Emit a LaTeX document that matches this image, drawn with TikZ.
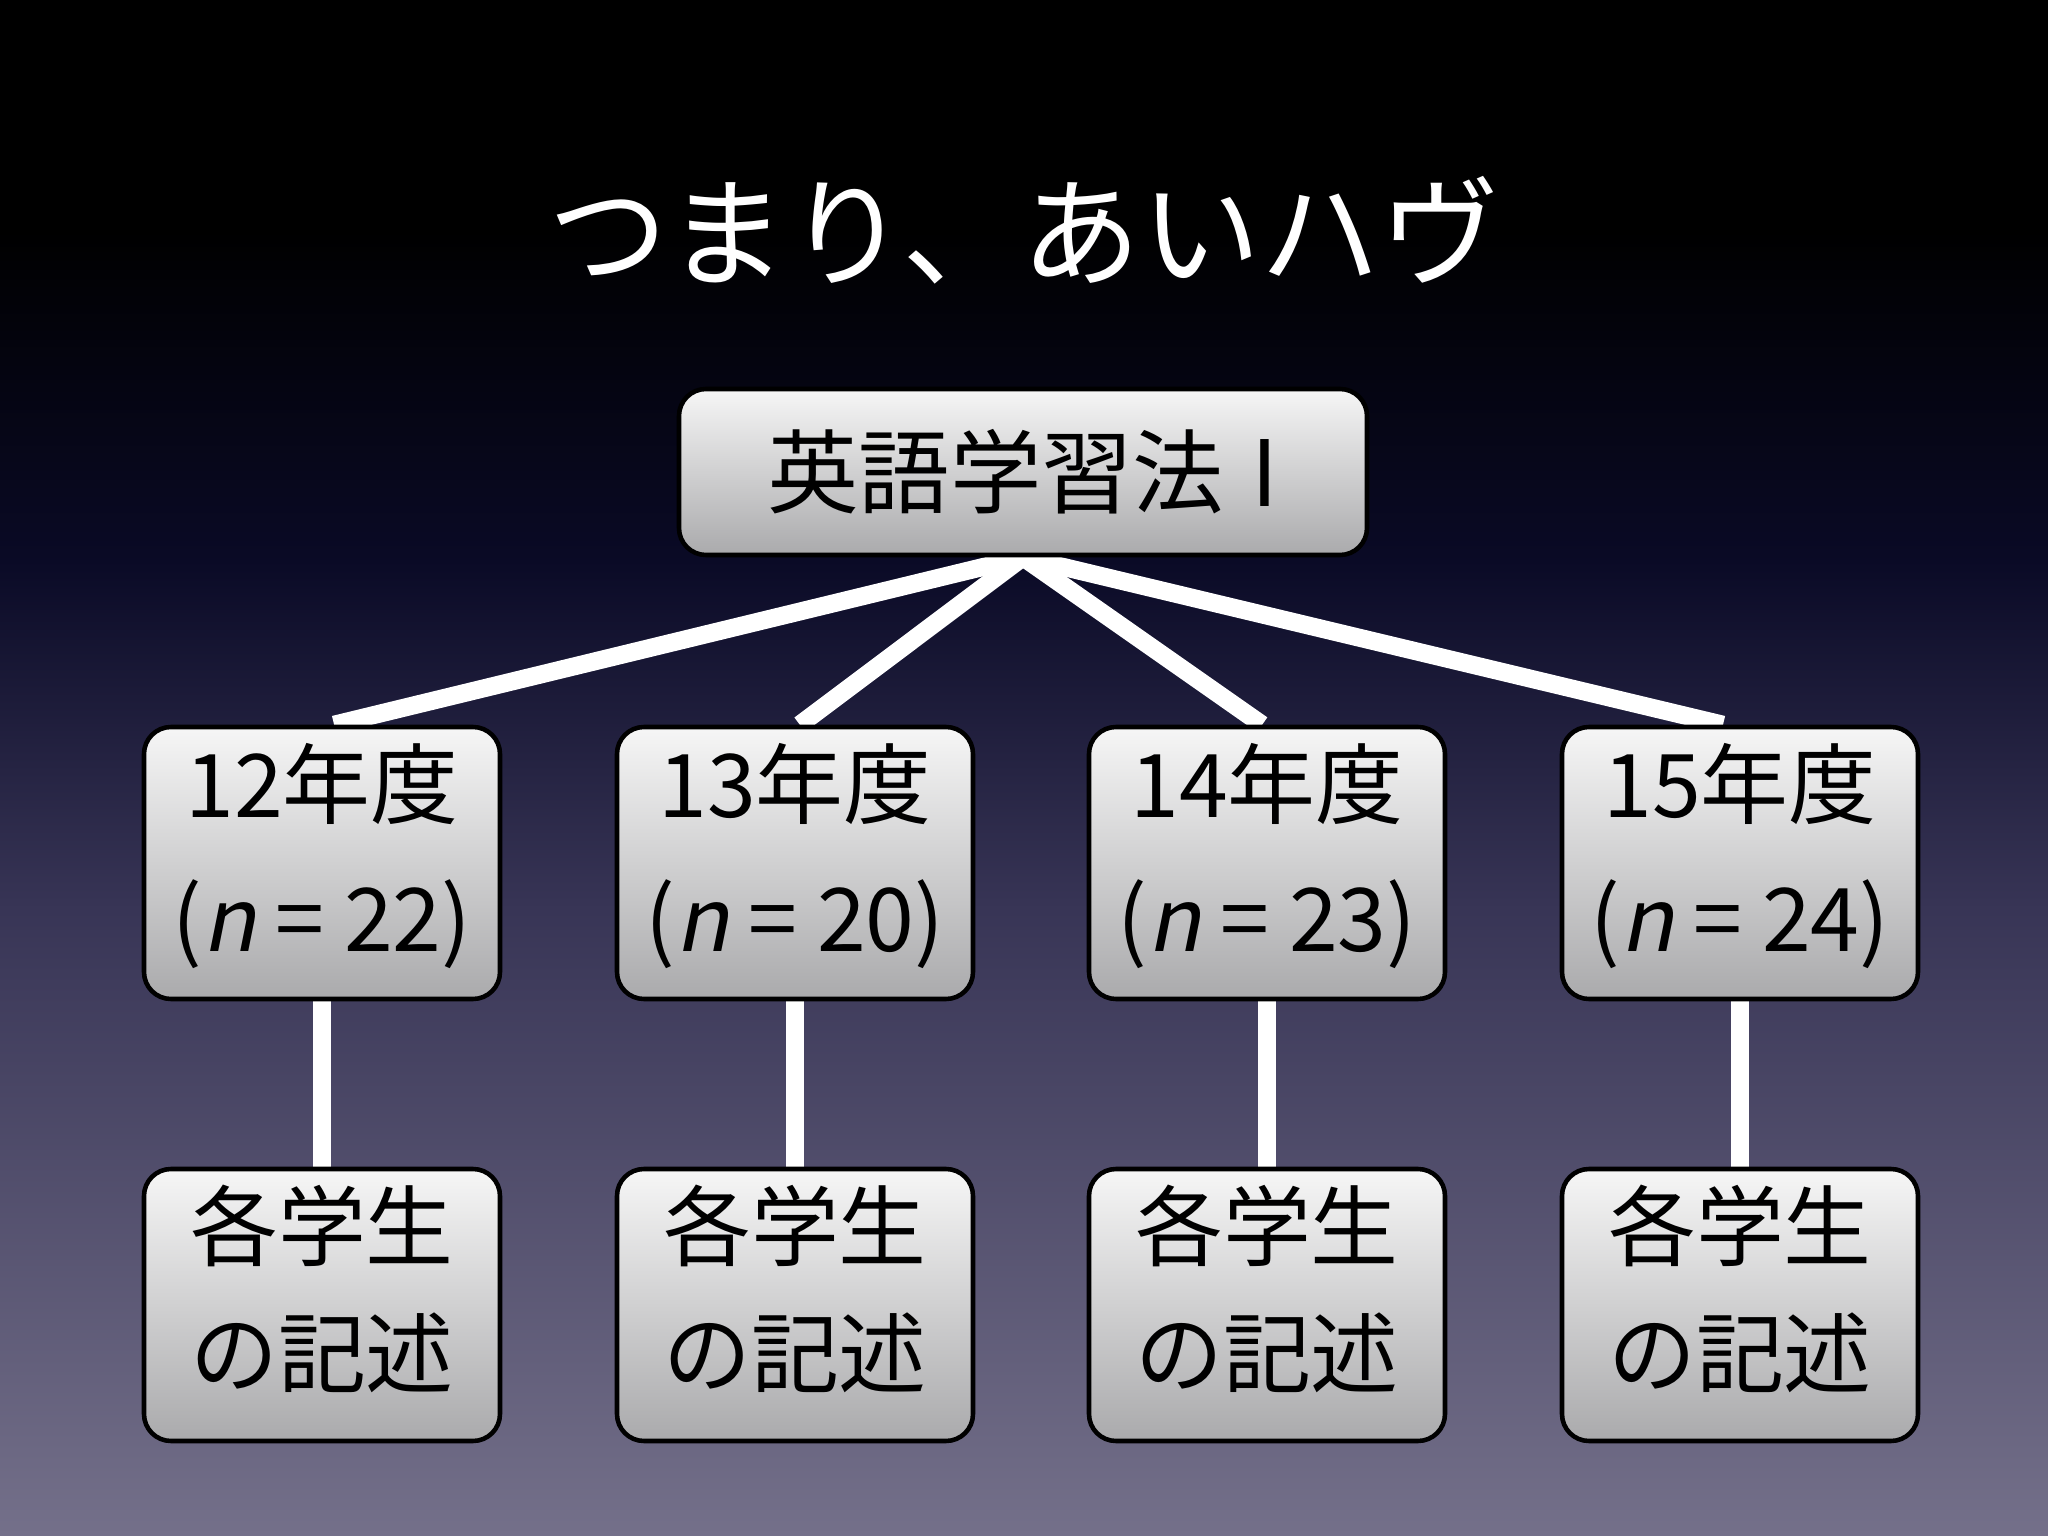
\documentclass[tikz,border=0pt]{standalone}
\usepackage{fontspec}
\setmainfont{Noto Sans CJK JP}
\newfontfamily\slantfont{Noto Sans CJK JP}[FakeSlant=0.2]
\usetikzlibrary{calc}

\definecolor{bgnavy}{RGB}{10,10,38}
\definecolor{bgmid}{RGB}{55,52,85}
\definecolor{bgbot}{RGB}{116,112,138}
\definecolor{boxtop}{RGB}{246,246,246}
\definecolor{boxbot}{RGB}{170,170,172}

\pgfdeclarelayer{back}
\pgfdeclarelayer{links}
\pgfsetlayers{back,links,main}

\begin{document}
\begin{tikzpicture}[
    box/.style={draw=black, line width=1.3pt, rounded corners=0.27cm,
        top color=boxtop, bottom color=boxbot, align=center, inner sep=0pt},
    yearbox/.style={box, minimum width=3.56cm, minimum height=2.72cm,
        text depth=9pt, font=\fontsize{25}{38}\selectfont},
    notebox/.style={box, minimum width=3.56cm, minimum height=2.72cm,
        text depth=11pt, font=\fontsize{25}{36}\selectfont},
    link/.style={white, line width=0.18cm}
]
    \useasboundingbox (0,0) rectangle (20.48,-15.36);

    \node[white, font=\fontsize{34}{40}\selectfont] (title) at (10.24,-2.30) {つまり、あいハヴ};

    \node[box, minimum width=6.88cm, minimum height=1.66cm, font=\fontsize{26}{30}\selectfont] (method) at (10.23,-4.72) {英語学習法\hspace{0.3em}I};

    \node[yearbox] (y12) at (3.22,-8.63) {12年度\\({\slantfont n} = 22)};
    \node[yearbox] (y13) at (7.95,-8.63) {13年度\\({\slantfont n} = 20)};
    \node[yearbox] (y14) at (12.67,-8.63) {14年度\\({\slantfont n} = 23)};
    \node[yearbox] (y15) at (17.40,-8.63) {15年度\\({\slantfont n} = 24)};

    \node[notebox] (d12) at (3.22,-13.05) {各学生\\の記述};
    \node[notebox] (d13) at (7.95,-13.05) {各学生\\の記述};
    \node[notebox] (d14) at (12.67,-13.05) {各学生\\の記述};
    \node[notebox] (d15) at (17.40,-13.05) {各学生\\の記述};

    \begin{pgfonlayer}{links}
        \draw[link, shorten <=-0.2cm] (method.south) -- (y12.85);
        \draw[link, shorten <=-0.2cm] (method.south) -- (y13.88);
        \draw[link, shorten <=-0.2cm] (method.south) -- (y14.92);
        \draw[link, shorten <=-0.2cm] (method.south) -- (y15.97);
        \draw[link, shorten <=-0.1cm, shorten >=-0.1cm] (y12.south) -- (d12.north);
        \draw[link, shorten <=-0.1cm, shorten >=-0.1cm] (y13.south) -- (d13.north);
        \draw[link, shorten <=-0.1cm, shorten >=-0.1cm] (y14.south) -- (d14.north);
        \draw[link, shorten <=-0.1cm, shorten >=-0.1cm] (y15.south) -- (d15.north);
    \end{pgfonlayer}

    \begin{pgfonlayer}{back}
        \fill[black] (0,0) rectangle (20.48,-2.32);
        \shade[top color=black, bottom color=bgnavy] (0,-2.3) rectangle (20.48,-5.62);
        \shade[top color=bgnavy, bottom color=bgmid] (0,-5.6) rectangle (20.48,-9.02);
        \shade[top color=bgmid, bottom color=bgbot] (0,-9.0) rectangle (20.48,-15.36);
    \end{pgfonlayer}
\end{tikzpicture}
\end{document}
